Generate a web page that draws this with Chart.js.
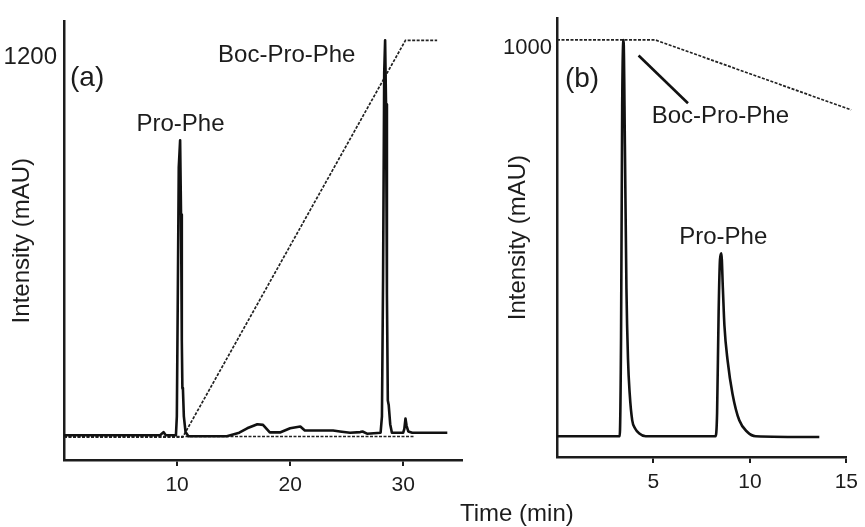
<!DOCTYPE html>
<html>
<head>
<meta charset="utf-8">
<script src="https://cdn.jsdelivr.net/npm/chart.js@4.4.0/dist/chart.umd.min.js"></script>
<style>
  body { margin: 0; background: #fff; }
  #wrap { position: relative; width: 865px; height: 527px; overflow: hidden; background: #fff; }
  #chartA { position: absolute; left: 0; top: 0; }
  #chartB { position: absolute; left: 470px; top: 0; }
  #timeTitle {
    position: absolute; left: 460px; top: 499px;
    font: 24px 'Liberation Sans', Arial, sans-serif; line-height: 28px;
    color: #1c1c1c; white-space: nowrap;
  }
</style>
</head>
<body>
<div id="wrap">
  <canvas id="chartA" width="470" height="527"></canvas>
  <canvas id="chartB" width="395" height="527"></canvas>
  <div id="timeTitle">Time (min)</div>
</div>
<script>
// panel (a): gradient run, time in min, intensity in mAU
const timeA = [0, 8.5, 8.8, 9.0, 9.9, 9.98, 10.06, 10.15, 10.27, 10.35, 10.42, 10.47, 10.52, 10.6, 10.75, 11.0,
  14.4, 15.5, 16.2, 17.1, 17.6, 18.2, 19.1, 20.0, 20.9, 21.3, 22.0, 23.8, 24.4, 25.3, 26.2, 26.4, 26.8,
  28.0, 28.12, 28.22, 28.32, 28.4, 28.48, 28.56, 28.64, 28.72, 28.85, 29.0, 30.0, 30.1, 30.2, 30.3, 30.45, 30.8, 33.9];
const intensityA = [0, 0, 10, 0, 0, 60, 420, 850, 936, 700, 300, 150, 145, 60, 10, -3,
  -3, 8, 22, 35, 33, 9, 9, 22, 28, 15, 15, 15, 12, 8, 10, 12, 5,
  8, 60, 500, 1150, 1253, 1050, 450, 110, 95, 35, 8, 8, 20, 53, 30, 12, 8, 8];
const gradientTimeA = [0, 10.5, 30.2, 33.0];
const gradientA = [-6, -6, 1253, 1253];
const blankTimeA = [0, 31];
const blankA = [-4, -4];
const xTicksA = [10, 20, 30];
const yTicksA = [1200];

// panel (b): isocratic run
const timeB = [0, 3.25, 3.32, 3.38, 3.45, 3.52, 3.6, 3.68, 3.77, 3.9, 4.05, 4.25, 4.6,
  8.22, 8.3, 8.38, 8.45, 8.52, 8.6, 8.68, 8.85, 9.1, 9.45, 9.87, 10.3, 13.6];
const intensityB = [0, 0, 250, 850, 1020, 750, 380, 200, 109, 41, 20, 8, 0,
  0, 60, 320, 455, 471, 380, 285, 193, 109, 41, 11, 0, -2];
const gradientTimeB = [0, 5.1, 15.25];
const gradientB = [1020, 1020, 840];
const leaderTimeB = [4.23, 6.79];
const leaderB = [980, 857];
const xTicksB = [5, 10, 15];
const yTicksB = [1000];

const INK = '#1c1c1c';
const FAMILY = "'Liberation Sans', Arial, sans-serif";

const pairs = (xs, ys) => xs.map((x, i) => ({ x, y: ys[i] }));

// draws the peak names and panel letters at data coordinates
const notesPlugin = {
  id: 'panelNotes',
  afterDatasetsDraw(chart, args, opts) {
    const { ctx, scales } = chart;
    ctx.save();
    ctx.fillStyle = INK;
    ctx.textBaseline = 'middle';
    (opts.items || []).forEach((n) => {
      ctx.font = `${n.size}px ${FAMILY}`;
      ctx.textAlign = n.align || 'center';
      ctx.fillText(n.text, scales.x.getPixelForValue(n.x), scales.y.getPixelForValue(n.y));
    });
    ctx.restore();
  },
};

function traceSet(data, extra = {}) {
  return {
    data, borderColor: '#111', borderWidth: 2.6, pointRadius: 0,
    tension: 0, fill: false, borderJoinStyle: 'round', order: 0, ...extra,
  };
}

function dottedSet(data, extra = {}) {
  return {
    data, borderColor: '#222', borderWidth: 1.7, borderDash: [3, 1.5],
    pointRadius: 0, tension: 0, fill: false, order: 2, ...extra,
  };
}

function makeChart(id, p) {
  const ctx = document.getElementById(id);
  return new Chart(ctx, {
    type: 'line',
    data: { datasets: p.datasets },
    plugins: [notesPlugin],
    options: {
      responsive: false,
      animation: false,
      devicePixelRatio: 1,
      layout: { padding: { left: 0, right: p.padRight, top: p.padTop, bottom: 0 } },
      plugins: {
        legend: { display: false },
        tooltip: { enabled: false },
        panelNotes: { items: p.notes },
      },
      scales: {
        x: {
          type: 'linear',
          min: p.xMin,
          max: p.xMax,
          afterBuildTicks: (s) => { s.ticks = p.xTicks.map((v) => ({ value: v })); },
          afterFit: (s) => { s.height = p.xHeight; },
          grid: { drawOnChartArea: false, drawTicks: true, tickLength: 6, color: INK, lineWidth: 2 },
          border: { display: true, color: INK, width: 2.5 },
          ticks: {
            color: INK, font: { size: 21, family: FAMILY }, padding: 7,
            maxRotation: 0, autoSkip: false, callback: (v) => String(v),
          },
        },
        y: {
          type: 'linear',
          min: p.yMin,
          max: p.yMax,
          afterBuildTicks: (s) => { s.ticks = p.yTicks.map((v) => ({ value: v })); },
          afterFit: (s) => { s.width = p.yWidth; },
          grid: { display: false, drawTicks: false },
          border: { display: true, color: INK, width: 2.5 },
          ticks: {
            color: INK, font: { size: p.yTickSize, family: FAMILY }, padding: p.yTickPad,
            autoSkip: false, callback: (v) => String(v),
          },
          title: {
            display: true, text: 'Intensity (mAU)', color: INK,
            font: { size: 24, family: FAMILY }, padding: { top: p.titlePad, bottom: 0 },
          },
        },
      },
    },
  });
}

makeChart('chartA', {
  datasets: [
    traceSet(pairs(timeA, intensityA)),
    dottedSet(pairs(gradientTimeA, gradientA)),
    dottedSet(pairs(blankTimeA, blankA)),
  ],
  notes: [
    { text: '(a)', x: 0.53, y: 1131, align: 'left', size: 28 },
    { text: 'Pro-Phe', x: 10.3, y: 986, size: 24 },
    { text: 'Boc-Pro-Phe', x: 19.7, y: 1206, size: 24 },
  ],
  xMin: 0, xMax: 35.2, yMin: -78.5, yMax: 1313,
  xTicks: xTicksA, yTicks: yTicksA,
  xHeight: 67, yWidth: 64, padTop: 17, padRight: 8,
  yTickSize: 24, yTickPad: 7, titlePad: 8,
});

makeChart('chartB', {
  datasets: [
    traceSet(pairs(timeB, intensityB), { cubicInterpolationMode: 'monotone' }),
    traceSet(pairs(leaderTimeB, leaderB), { borderJoinStyle: 'miter' }),
    dottedSet(pairs(gradientTimeB, gradientB), { clip: false }),
  ],
  notes: [
    { text: '(b)', x: 0.41, y: 918, align: 'left', size: 28 },
    { text: 'Boc-Pro-Phe', x: 8.47, y: 823, size: 24 },
    { text: 'Pro-Phe', x: 8.62, y: 511, size: 24 },
  ],
  xMin: 0, xMax: 15, yMin: -53.4, yMax: 1076,
  xTicks: xTicksB, yTicks: yTicksB,
  xHeight: 70, yWidth: 87, padTop: 13, padRight: 14,
  yTickSize: 22, yTickPad: 5, titlePad: 34,
});
</script>
</body>
</html>
